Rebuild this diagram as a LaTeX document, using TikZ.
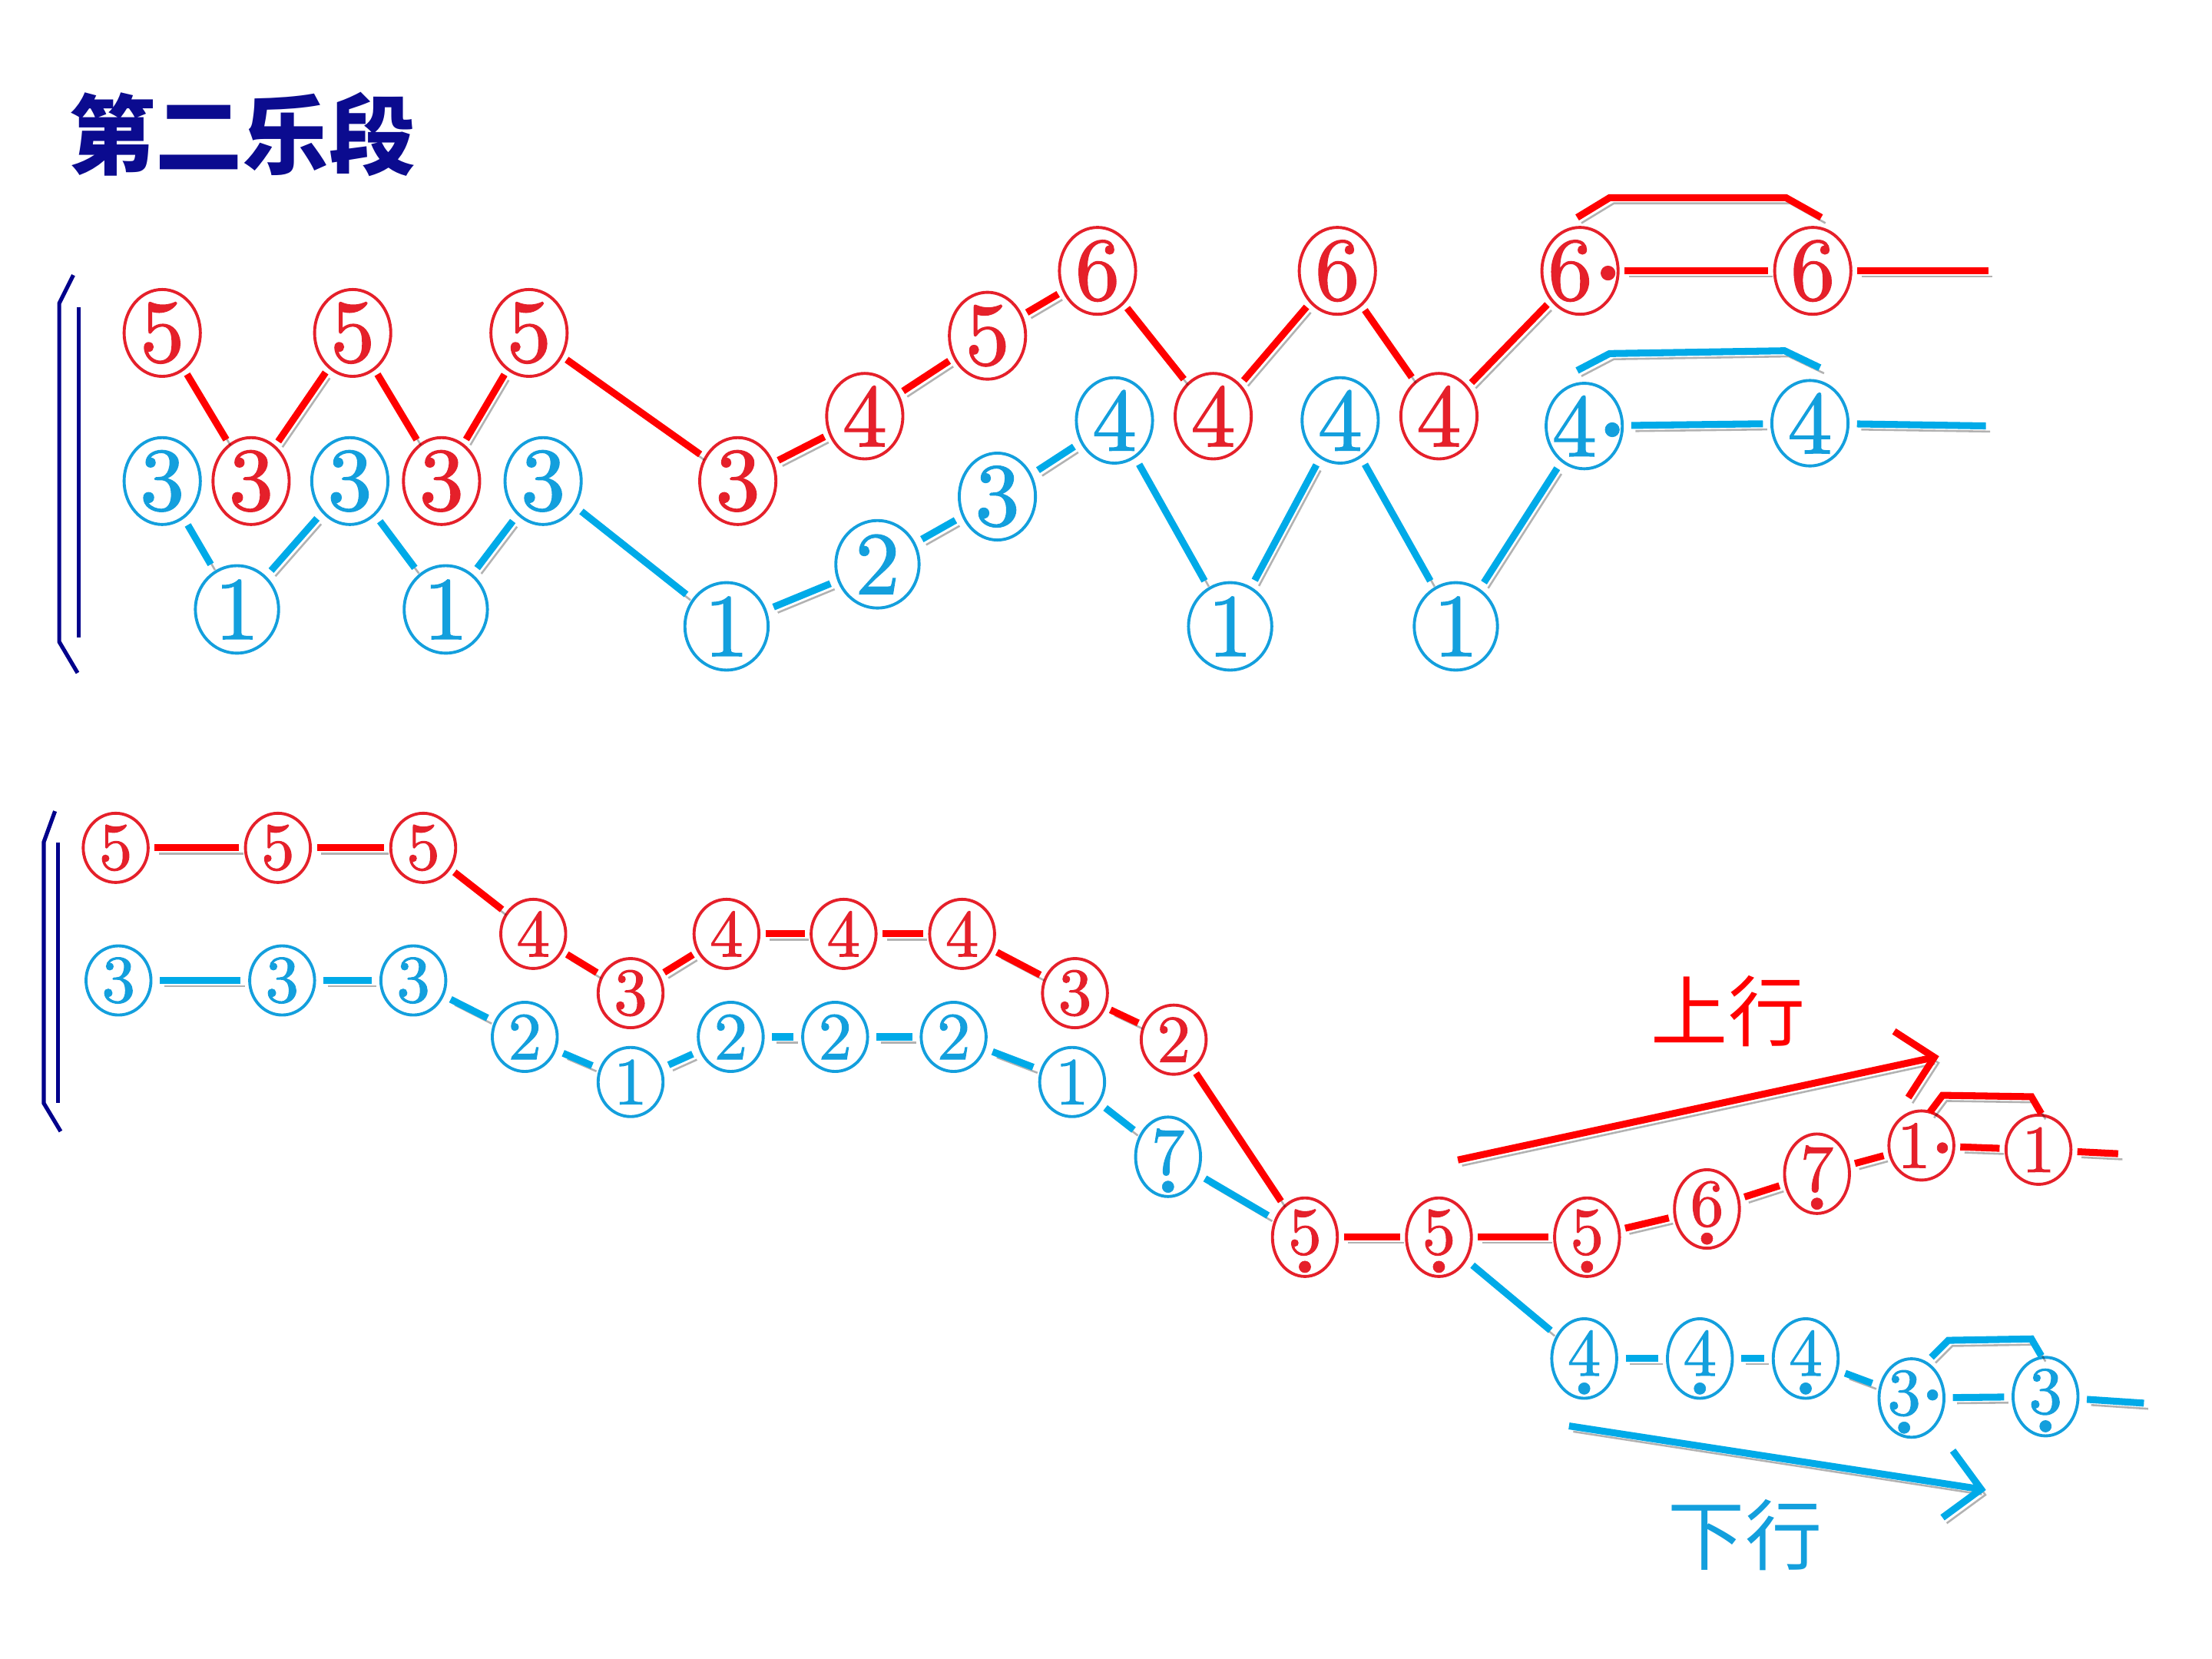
\documentclass[tikz,border=0pt]{standalone}
\usepackage{fontspec}
\newfontfamily\cjkfont{Noto Sans CJK SC}
\newfontfamily\notefont{lmroman10-regular}[Extension=.otf, FakeBold=1.2]
\usepackage{graphicx}
\usepackage{xcolor}
\usepackage{tikz}
\usetikzlibrary{arrows.meta,shapes.geometric}
\definecolor{titleNavy}{HTML}{0B0B8F}
\definecolor{braceNavy}{HTML}{00008B}
\definecolor{upRed}{HTML}{E5202A}
\definecolor{upRedLine}{HTML}{FF0000}
\definecolor{loBlue}{HTML}{139FDD}
\definecolor{loBlueLine}{HTML}{00AAE8}
\newcommand{\lowdot}[1]{\ooalign{#1\cr\hidewidth\smash{\raisebox{-0.33em}{\scalebox{0.6}{\textbullet}}}\hidewidth\cr}}
\newcommand{\sidedot}[1]{\kern-0.22em#1\rlap{\kern-0.04em\raisebox{0.17em}{\scalebox{0.55}{\textbullet}}}}
\tikzset{
  rednote/.style={ellipse, draw=upRed, text=upRed, line width=0.6pt, inner sep=0pt, minimum width=0.54cm, minimum height=0.58cm, font=\notefont\fontsize{18}{18}\selectfont},
  bluenote/.style={ellipse, draw=loBlue, text=loBlue, line width=0.6pt, inner sep=0pt, minimum width=0.54cm, minimum height=0.58cm, font=\notefont\fontsize{18}{18}\selectfont},
  widenote/.style={minimum width=0.59cm, minimum height=0.62cm},
  smallnote/.style={minimum width=0.46cm, minimum height=0.49cm, font=\notefont\fontsize{13.5}{13.5}\selectfont},
  lownote/.style={text depth=2.2pt},
  redline/.style={draw=upRedLine, line width=1.4pt, shorten <=1pt, shorten >=1pt, preaction={draw=black, opacity=0.3, transform canvas={shift={(3,4)}}}},
  blueline/.style={draw=loBlueLine, line width=1.4pt, shorten <=1.5pt, shorten >=1.5pt, preaction={draw=black, opacity=0.3, transform canvas={shift={(3,4)}}}},
  redtie/.style={draw=upRedLine, line width=1.4pt, preaction={draw=black, opacity=0.3, transform canvas={shift={(3,4)}}}},
  bluetie/.style={draw=loBlueLine, line width=1.4pt, preaction={draw=black, opacity=0.3, transform canvas={shift={(3,4)}}}},
  bracketline/.style={draw=braceNavy, line width=0.8pt},
  trendarrow/.style={-{Straight Barb[length=2.4mm,width=4.8mm]}},
  titletext/.style={font=\cjkfont\bfseries\fontsize{17.5}{20}\selectfont, text=titleNavy, inner sep=0pt},
  trendlabel/.style={font=\cjkfont\fontsize{15.5}{17}\selectfont, text=#1, inner sep=0pt},
}
\begin{document}
\begin{tikzpicture}[x=0.01cm,y=-0.01cm]
  \useasboundingbox (0,0) rectangle (1568,1176);

  \node[titletext, anchor=west] (title) at (48,95) {第二乐段};

  % first phrase
  \draw[bracketline] (52,195) -- (42,215) -- (42,455) -- (55,477);
  \draw[bracketline] (56,218) -- (56,452);

  \node[rednote] (r1) at (115,236) {5};
  \node[rednote] (r2) at (178,341) {3};
  \node[rednote] (r3) at (250,236) {5};
  \node[rednote] (r4) at (313,341) {3};
  \node[rednote] (r5) at (375,236) {5};
  \node[rednote] (r6) at (523,341) {3};
  \node[rednote] (r7) at (613,295) {4};
  \node[rednote] (r8) at (700,238) {5};
  \node[rednote] (r9) at (778,192) {6};
  \node[rednote] (r10) at (860,295) {4};
  \node[rednote] (r11) at (948,192) {6};
  \node[rednote] (r12) at (1020,295) {4};
  \node[rednote] (r13) at (1120,192) {\sidedot{6}};
  \node[rednote] (r14) at (1285,192) {6};
  \coordinate (rEnd) at (1413,192);

  \node[bluenote] (b1) at (115,341) {3};
  \node[bluenote, widenote] (b2) at (168,432) {1};
  \node[bluenote] (b3) at (248,341) {3};
  \node[bluenote, widenote] (b4) at (316,432) {1};
  \node[bluenote] (b5) at (385,341) {3};
  \node[bluenote, widenote] (b6) at (515,444) {1};
  \node[bluenote, widenote] (b7) at (622,400) {2};
  \node[bluenote] (b8) at (707,352) {3};
  \node[bluenote] (b9) at (790,298) {4};
  \node[bluenote, widenote] (b10) at (872,444) {1};
  \node[bluenote] (b11) at (950,298) {4};
  \node[bluenote, widenote] (b12) at (1032,444) {1};
  \node[bluenote] (b13) at (1123,302) {\sidedot{4}};
  \node[bluenote] (b14) at (1283,300) {4};
  \coordinate (bEnd) at (1413,302);

  \draw[redline] (r1) -- (r2);
  \draw[redline] (r2) -- (r3);
  \draw[redline] (r3) -- (r4);
  \draw[redline] (r4) -- (r5);
  \draw[redline] (r5) -- (r6);
  \draw[redline] (r6) -- (r7);
  \draw[redline] (r7) -- (r8);
  \draw[redline] (r8) -- (r9);
  \draw[redline] (r9) -- (r10);
  \draw[redline] (r10) -- (r11);
  \draw[redline] (r11) -- (r12);
  \draw[redline] (r12) -- (r13);
  \draw[redline] (r13) -- (r14);
  \draw[redline] (r14) -- (rEnd);
  \draw[redtie] ([shift={(-2,-6)}]r13.north) -- ++(23,-14) -- ([shift={(-19,-20)}]r14.north) -- ([shift={(6,-6)}]r14.north);

  \draw[blueline] (b1) -- (b2);
  \draw[blueline] (b2) -- (b3);
  \draw[blueline] (b3) -- (b4);
  \draw[blueline] (b4) -- (b5);
  \draw[blueline] (b5) -- (b6);
  \draw[blueline] (b6) -- (b7);
  \draw[blueline] (b7) -- (b8);
  \draw[blueline] (b8) -- (b9);
  \draw[blueline] (b9) -- (b10);
  \draw[blueline] (b10) -- (b11);
  \draw[blueline] (b11) -- (b12);
  \draw[blueline] (b12) -- (b13);
  \draw[blueline] (b13) -- (b14);
  \draw[blueline] (b14) -- (bEnd);
  \draw[bluetie] ([shift={(-5,-8)}]b13.north) -- ++(23,-12) -- ([shift={(-18,-20)}]b14.north) -- ([shift={(7,-8)}]b14.north);

  % second phrase
  \draw[bracketline] (39,575) -- (31,597) -- (31,782) -- (43,802);
  \draw[bracketline] (41,597) -- (41,782);

  \node[rednote, smallnote] (rr1) at (82,601) {5};
  \node[rednote, smallnote] (rr2) at (197,601) {5};
  \node[rednote, smallnote] (rr3) at (300,601) {5};
  \node[rednote, smallnote] (rr4) at (378,662) {4};
  \node[rednote, smallnote] (rr5) at (447,704) {3};
  \node[rednote, smallnote] (rr6) at (515,662) {4};
  \node[rednote, smallnote] (rr7) at (598,662) {4};
  \node[rednote, smallnote] (rr8) at (682,662) {4};
  \node[rednote, smallnote] (rr9) at (762,704) {3};
  \node[rednote, smallnote] (rr10) at (832,737) {2};
  \node[rednote, smallnote, lownote] (rr11) at (925,877) {\lowdot{5}};
  \node[rednote, smallnote, lownote] (rr12) at (1020,877) {\lowdot{5}};
  \node[rednote, smallnote, lownote] (rr13) at (1125,877) {\lowdot{5}};
  \node[rednote, smallnote, lownote] (rr14) at (1210,857) {\lowdot{6}};
  \node[rednote, smallnote, lownote] (rr15) at (1288,832) {\lowdot{7}};
  \node[rednote, smallnote] (rr16) at (1362,812) {\sidedot{1}};
  \node[rednote, smallnote] (rr17) at (1445,815) {1};
  \coordinate (rrEnd) at (1505,818);

  \node[bluenote, smallnote] (bb1) at (84,695) {3};
  \node[bluenote, smallnote] (bb2) at (200,695) {3};
  \node[bluenote, smallnote] (bb3) at (293,695) {3};
  \node[bluenote, smallnote] (bb4) at (372,735) {2};
  \node[bluenote, smallnote] (bb5) at (447,767) {1};
  \node[bluenote, smallnote] (bb6) at (518,735) {2};
  \node[bluenote, smallnote] (bb7) at (592,735) {2};
  \node[bluenote, smallnote] (bb8) at (676,735) {2};
  \node[bluenote, smallnote] (bb9) at (760,767) {1};
  \node[bluenote, smallnote, lownote] (bb10) at (828,820) {\lowdot{7}};
  \node[bluenote, smallnote, lownote] (bb11) at (1123,963) {\lowdot{4}};
  \node[bluenote, smallnote, lownote] (bb12) at (1205,963) {\lowdot{4}};
  \node[bluenote, smallnote, lownote] (bb13) at (1280,963) {\lowdot{4}};
  \node[bluenote, smallnote, lownote] (bb14) at (1355,991) {\sidedot{\lowdot{3}}};
  \node[bluenote, smallnote, lownote] (bb15) at (1450,990) {\lowdot{3}};
  \coordinate (bbEnd) at (1525,995);

  \draw[redline] (rr1) -- (rr2);
  \draw[redline] (rr2) -- (rr3);
  \draw[redline] (rr3) -- (rr4);
  \draw[redline] (rr4) -- (rr5);
  \draw[redline] (rr5) -- (rr6);
  \draw[redline] (rr6) -- (rr7);
  \draw[redline] (rr7) -- (rr8);
  \draw[redline] (rr8) -- (rr9);
  \draw[redline] (rr9) -- (rr10);
  \draw[redline] (rr10) -- (rr11);
  \draw[redline] (rr11) -- (rr12);
  \draw[redline] (rr12) -- (rr13);
  \draw[redline] (rr13) -- (rr14);
  \draw[redline] (rr14) -- (rr15);
  \draw[redline] (rr15) -- (rr16);
  \draw[redline] (rr16) -- (rr17);
  \draw[redline] (rr17) -- (rrEnd);
  \draw[redtie] ([shift={(6,2)}]rr16.north) -- ++(9,-12) -- ([shift={(-5,-12)}]rr17.north) -- ([shift={(2,0)}]rr17.north);

  \draw[blueline] (bb1) -- (bb2);
  \draw[blueline] (bb2) -- (bb3);
  \draw[blueline] (bb3) -- (bb4);
  \draw[blueline] (bb4) -- (bb5);
  \draw[blueline] (bb5) -- (bb6);
  \draw[blueline] (bb6) -- (bb7);
  \draw[blueline] (bb7) -- (bb8);
  \draw[blueline] (bb8) -- (bb9);
  \draw[blueline] (bb9) -- (bb10);
  \draw[blueline] (bb10) -- (rr11);
  \draw[blueline] (rr12) -- (bb11);
  \draw[blueline] (bb11) -- (bb12);
  \draw[blueline] (bb12) -- (bb13);
  \draw[blueline] (bb13) -- (bb14);
  \draw[blueline] (bb14) -- (bb15);
  \draw[blueline] (bb15) -- (bbEnd);
  \draw[bluetie] ([shift={(14,0)}]bb14.north) -- ++(12,-12) -- ([shift={(-10,-12)}]bb15.north) -- ([shift={(-3,0)}]bb15.north);

  % direction arrows
  \coordinate (upFrom) at (1030,823);
  \coordinate (upTo) at (1378,748);
  \coordinate (downFrom) at (1107,1010);
  \coordinate (downTo) at (1413,1057);
  \draw[redline, trendarrow] (upFrom) -- (upTo);
  \draw[blueline, trendarrow] (downFrom) -- (downTo);
  \node[trendlabel=upRedLine] (upLabel) at (1225,717) {上行};
  \node[trendlabel=loBlue] (downLabel) at (1237,1088) {下行};
\end{tikzpicture}
\end{document}
